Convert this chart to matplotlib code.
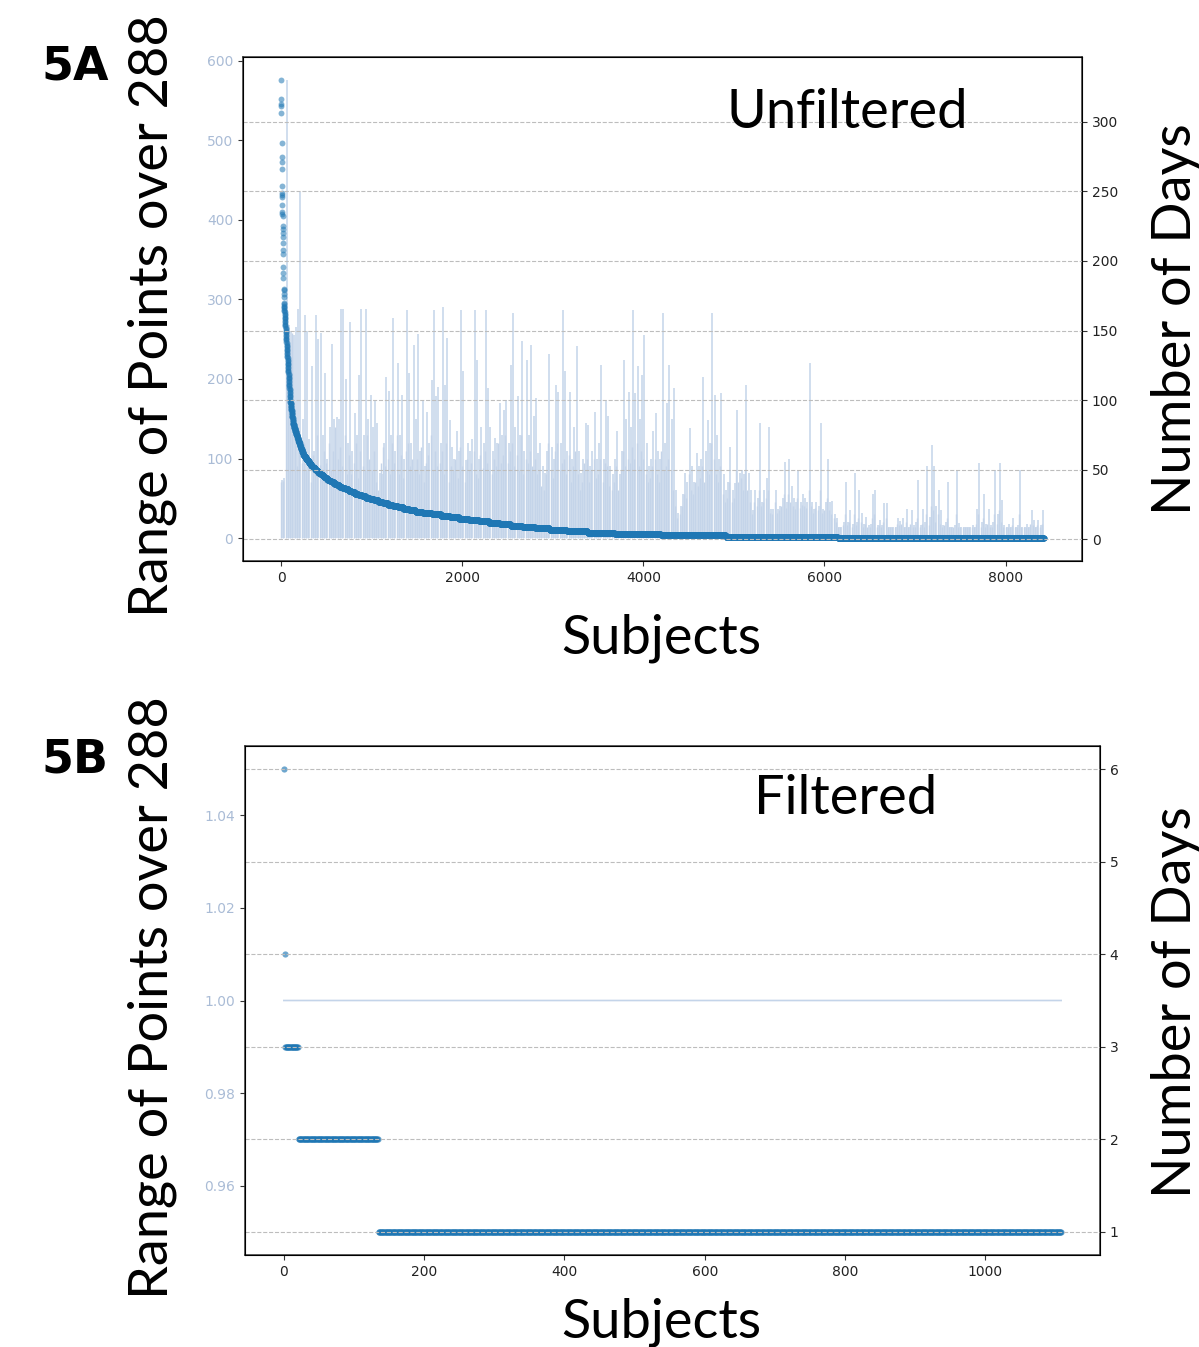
import numpy as np
import matplotlib
matplotlib.use("Agg")
import matplotlib.pyplot as plt

# ---------------- 5A: unfiltered ----------------
# days for the handful of subjects at the very top of the ranking
top_days = [330, 316, 313, 311, 306, 285, 275, 271, 266, 254, 249, 247, 246,
            240, 235, 234, 232, 225, 223, 220, 217, 213, 208, 205, 196, 191,
            188, 180, 179, 176, 174, 170]

# number of subjects having exactly d days, d = 1 .. 61
counts_1_61 = [2276, 1238, 718, 508, 300, 230, 190, 160, 140, 130,
               120, 120, 110, 110, 110, 100, 100, 100, 100, 80,
               70, 65, 60, 55, 55, 55, 50, 50, 45, 45,
               40, 40, 40, 35, 35, 35, 33, 32, 30, 28,
               27, 25, 23, 22, 21, 20, 19, 18, 17, 16,
               16, 15, 14, 13, 12, 12, 11, 11, 10, 10,
               9]
# d = 62 .. 83
counts_62_83 = [6, 6, 6, 6, 6, 5, 5, 5, 5, 5, 5, 5, 5, 5, 5, 5, 5, 5, 4, 4, 4, 4]
# d = 84 .. 119
counts_84_119 = [2, 2, 2, 2, 2, 2, 2, 2, 2, 2, 2, 2, 2, 2, 2, 2,
                 1, 1, 1, 1, 1, 1, 1, 1, 1, 1, 1, 1, 1, 1, 1, 1, 1, 1, 1, 1]
# d = 120 .. 169
counts_120_169 = [1, 1, 1, 1, 1, 1, 1, 1, 1, 1, 1, 1, 1, 1, 1, 1, 1, 1, 1, 1, 1, 1, 1, 1, 1,
                  1, 1, 1, 1, 1, 1, 1, 1, 1, 1, 1, 1, 1, 1, 1, 1, 1, 1, 1, 1, 1, 1, 1, 1, 1]

# peak "range of points" per block of 25 consecutive subjects
range_block = 25
range_peaks = [
    73, 75, 576, 268, 260, 255, 265, 288, 435, 150,
    280, 260, 124, 216, 110, 281, 250, 258, 130, 208,
    100, 140, 244, 150, 152, 150, 288, 288, 200, 120,
    272, 110, 157, 130, 205, 288, 130, 288, 150, 180,
    140, 174, 145, 82, 80, 120, 203, 185, 130, 277,
    110, 220, 130, 180, 100, 287, 208, 120, 243, 150,
    256, 110, 172, 90, 159, 120, 199, 287, 178, 190,
    120, 290, 193, 252, 149, 115, 100, 134, 110, 287,
    210, 98, 120, 110, 124, 287, 224, 100, 140, 120,
    287, 189, 140, 110, 126, 120, 170, 130, 161, 174,
    120, 218, 283, 140, 178, 130, 248, 110, 224, 130,
    243, 153, 176, 107, 120, 90, 82, 110, 231, 115,
    100, 193, 184, 120, 287, 210, 110, 184, 100, 140,
    241, 110, 82, 100, 145, 142, 90, 110, 159, 100,
    120, 218, 100, 172, 153, 90, 80, 100, 134, 80,
    110, 224, 150, 184, 140, 287, 182, 216, 150, 205,
    255, 120, 90, 100, 134, 157, 110, 100, 283, 120,
    170, 218, 150, 189, 60, 31, 40, 55, 82, 70,
    138, 90, 70, 107, 90, 100, 203, 110, 149, 120,
    283, 180, 130, 100, 182, 80, 61, 70, 115, 60,
    69, 161, 82, 85, 80, 193, 82, 60, 35, 61,
    50, 145, 45, 60, 75, 140, 37, 37, 61, 37,
    40, 50, 96, 45, 100, 65, 50, 45, 86, 45,
    56, 50, 45, 220, 45, 37, 45, 40, 145, 37,
    45, 100, 45, 46, 30, 25, 14, 14, 20, 71,
    20, 35, 18, 82, 20, 61, 31, 18, 27, 16,
    18, 56, 61, 16, 23, 16, 44, 44, 14, 14,
    14, 14, 25, 22, 25, 14, 37, 14, 35, 16,
    20, 73, 16, 37, 20, 90, 27, 117, 90, 40,
    61, 35, 16, 20, 71, 14, 14, 16, 86, 19,
    14, 14, 14, 14, 14, 16, 14, 37, 94, 20,
    56, 18, 37, 16, 20, 86, 30, 94, 48, 16,
    14, 18, 14, 25, 14, 16, 86, 14, 14, 18,
    14, 35, 23, 14, 23, 16, 35,
]
# lower values of the trace at the start of each block (between the peaks)
range_valleys = [
    70, 72, 250, 262, 240, 258, 120, 90, 110, 95,
    120, 85, 95, 70, 105, 88, 130, 92, 80, 110,
    95, 120, 85, 110, 140, 100, 115, 90, 130, 80,
    105, 80, 95, 120, 75, 110, 90, 85, 130, 100,
    85, 110, 70, 60, 95, 115, 90, 100, 80, 120,
    95, 130, 80, 105, 75, 110, 120, 90, 100, 85,
    100, 80, 115, 70, 95, 105, 130, 85, 110, 90,
    95, 110, 80, 120, 70, 90, 85, 100, 75, 115,
    90, 70, 100, 85, 95, 110, 80, 75, 105, 88,
    110, 95, 85, 80, 100, 90, 120, 95, 105, 130,
    95, 110, 120, 90, 105, 85, 130, 80, 100, 95,
    110, 90, 100, 80, 85, 65, 60, 80, 120, 85,
    75, 110, 120, 85, 95, 100, 80, 105, 70, 90,
    110, 80, 60, 70, 95, 100, 70, 85, 100, 75,
    80, 100, 70, 95, 90, 65, 60, 70, 90, 60,
    85, 110, 90, 100, 95, 115, 100, 120, 90, 110,
    100, 80, 70, 75, 90, 100, 80, 70, 110, 85,
    90, 100, 85, 60, 40, 25, 30, 40, 55, 50,
    80, 60, 55, 70, 65, 75, 90, 70, 85, 80,
    120, 100, 80, 70, 90, 55, 45, 50, 70, 45,
    50, 85, 70, 75, 60, 85, 60, 45, 30, 45,
    40, 60, 40, 45, 50, 60, 32, 30, 45, 32,
    35, 40, 55, 38, 55, 45, 40, 36, 50, 38,
    42, 40, 38, 60, 40, 32, 38, 35, 60, 32,
    35, 50, 35, 30, 25, 20, 14, 14, 16, 30,
    16, 20, 14, 30, 16, 25, 20, 14, 18, 14,
    14, 25, 30, 14, 16, 14, 20, 25, 14, 14,
    14, 14, 18, 16, 18, 14, 20, 14, 18, 14,
    14, 25, 14, 18, 14, 30, 16, 40, 35, 20,
    30, 18, 14, 16, 25, 14, 14, 14, 30, 14,
    14, 14, 14, 14, 14, 14, 14, 18, 30, 14,
    25, 14, 18, 14, 14, 30, 18, 35, 20, 14,
    14, 14, 14, 16, 14, 14, 30, 14, 14, 14,
    14, 18, 16, 14, 16, 14, 18,
]

# ---------------- 5B: filtered ----------------
b_day_values = [6, 4, 3, 2, 1]
b_day_counts = [1, 1, 19, 114, 974]
b_range_value = 1.0

# ------------------------------------------------
W, H = 1199, 1347
dot_color = "#1f77b4"
range_color = "#c4d4e9"
left_tick_color = "#aabcd6"
label_font = "Lato"
label_size = 39


def px_box(left, top, right, bottom):
    return [left / W, 1 - bottom / H, (right - left) / W, (bottom - top) / H]


def style_axes(ax, ax2):
    for sp in ax.spines.values():
        sp.set_color("#333333")
        sp.set_linewidth(1.1)
    ax.tick_params(axis="y", labelcolor=left_tick_color, labelsize=10, color="#333333")
    ax.tick_params(axis="x", labelcolor="#222222", labelsize=10, color="#333333")
    ax2.tick_params(axis="y", labelcolor="#222222", labelsize=10, color="#333333")
    ax2.grid(True, axis="y", linestyle="--", color="#bdbdbd", linewidth=0.8)


fig = plt.figure(figsize=(W / 100, H / 100), dpi=100)
fig.patch.set_facecolor("white")

# ---- panel A ----
axA = fig.add_axes(px_box(243, 57, 1082, 561))
axA2 = axA.twinx()

days_a = list(top_days)
for d in range(169, 119, -1):
    days_a += [d] * counts_120_169[d - 120]
for d in range(119, 83, -1):
    days_a += [d] * counts_84_119[d - 84]
for d in range(83, 61, -1):
    days_a += [d] * counts_62_83[d - 62]
for d in range(61, 0, -1):
    days_a += [d] * counts_1_61[d - 1]
days_a = np.array(days_a)

block_start = np.arange(len(range_valleys)) * range_block
axA.vlines(block_start, 0, range_valleys, color=range_color, linewidth=1.0)
range_x = np.arange(len(range_peaks)) * range_block + range_block // 2
axA.vlines(range_x, 0, range_peaks, color=range_color, linewidth=1.1)
axA2.scatter(np.arange(len(days_a)), days_a, s=18, color=dot_color,
             alpha=0.55, linewidths=0)

axA.set_yticks(range(0, 601, 100))
axA.set_xticks(range(0, 8001, 2000))
axA2.set_yticks(range(0, 301, 50))
style_axes(axA, axA2)

# ---- panel B ----
axB = fig.add_axes(px_box(245, 746, 1100, 1255))
axB2 = axB.twinx()

days_b = np.repeat(b_day_values, b_day_counts)
n_b = len(days_b)
axB.plot(np.arange(n_b), np.full(n_b, b_range_value), color=range_color, linewidth=1.2)
axB2.scatter(np.arange(n_b), days_b, s=20, color=dot_color, alpha=0.65, linewidths=0)

axB.set_yticks([0.96, 0.98, 1.00, 1.02, 1.04])
axB.set_xticks(range(0, 1001, 200))
axB2.set_yticks(range(1, 7))
style_axes(axB, axB2)


# ---- overlay labels ----
def ftext(x, y, s, **kw):
    fig.text(x / W, 1 - y / H, s, ha="center", va="center", **kw)


ftext(75, 67, "5A", fontsize=33, fontweight="bold", family="DejaVu Sans")
ftext(75, 760, "5B", fontsize=33, fontweight="bold", family="DejaVu Sans")

for yc in (316, 998):
    ftext(152, yc, "Range of Points over 288", fontsize=label_size, rotation=90,
          family=label_font)
for yc in (319, 1002):
    ftext(1175, yc, "Number of Days", fontsize=label_size, rotation=90, family=label_font)

ftext(661, 638, "Subjects", fontsize=label_size, family=label_font)
ftext(661, 1322, "Subjects", fontsize=label_size, family=label_font)
ftext(847, 113, "Unfiltered", fontsize=label_size, family=label_font)
ftext(846, 798, "Filtered", fontsize=label_size, family=label_font)

fig.savefig("out.png", dpi=100, facecolor="white")
